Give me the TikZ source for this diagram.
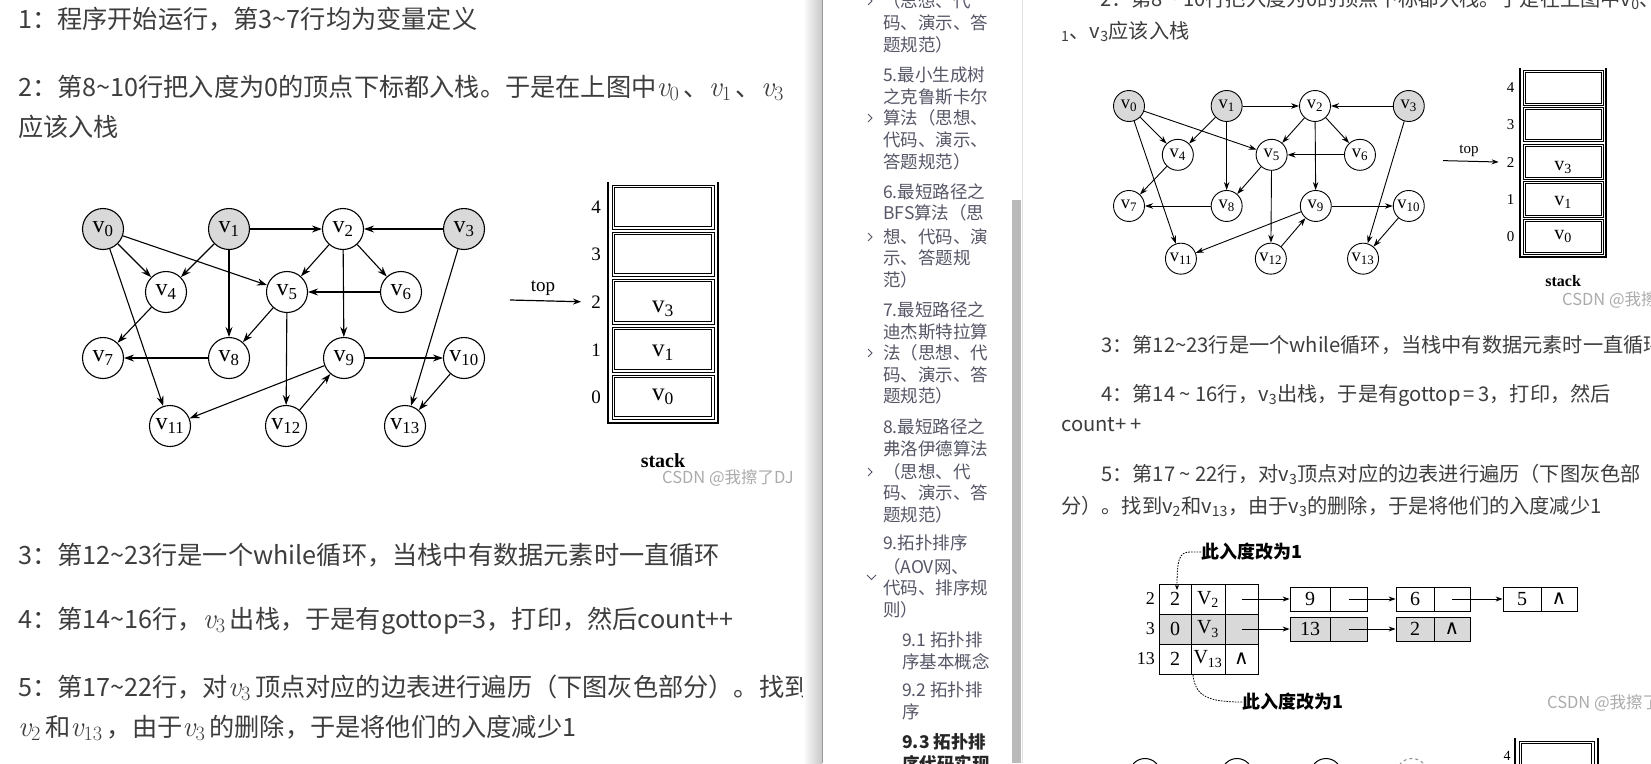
\documentclass[tikz,border=0pt]{standalone}
\usepackage{fontspec}
\usetikzlibrary{arrows.meta}
\newfontfamily\cjk{Noto Sans CJK SC}
\newfontfamily\tms{Liberation Serif}
\newfontfamily\dvs{DejaVu Sans}
\newcommand\kv[1]{{\rmfamily\itshape\fontsize{29}{29}\selectfont v\textsubscript{\upshape #1}}}
\newcommand\wdg{{\dvs ∧}}
\definecolor{txt}{HTML}{3D3D3D}
\definecolor{side}{HTML}{555666}
\definecolor{wm}{HTML}{ABABAB}
\tikzset{
 ltxt/.style={anchor=base west, inner sep=0pt, text=txt, font=\cjk\fontsize{25.2}{25.2}\selectfont},
 rtxt/.style={anchor=base west, inner sep=0pt, text=txt, font=\cjk\fontsize{20.2}{20.2}\selectfont},
 sbt/.style={anchor=base west, inner sep=0pt, text=side, font=\cjk\fontsize{17.5}{17.5}\selectfont},
 wmark/.style={anchor=west, inner sep=0pt, text=wm, font=\cjk\fontsize{16.5}{16.5}\selectfont},
 gA/.style={vtx/.style={circle, draw, line width=1.1pt, minimum size=41pt, inner sep=0pt, font=\tms\fontsize{24}{24}\selectfont},
            arr/.style={line width=1.1pt, -{Stealth[length=10pt,width=7pt]}}},
 gB/.style={vtx/.style={circle, draw, line width=0.9pt, minimum size=31pt, inner sep=0pt, font=\tms\fontsize{18.5}{18.5}\selectfont},
            arr/.style={line width=0.9pt, -{Stealth[length=8pt,width=5.5pt]}}},
 sA/.style={sidx/.style={inner sep=0pt, font=\tms\fontsize{19}{19}\selectfont},
            sval/.style={inner sep=0pt, font=\tms\fontsize{25}{25}\selectfont},
            stoplbl/.style={inner sep=0pt, font=\tms\fontsize{19}{19}\selectfont},
            sname/.style={inner sep=0pt, font=\tms\bfseries\fontsize{20}{20}\selectfont},
            toparr/.style={line width=1.2pt, -{Stealth[length=8pt,width=6pt]}, shorten >=10pt},
            souter/.style={line width=2.3pt},
            scell/.style={line width=0.8pt}},
 sB/.style={sidx/.style={inner sep=0pt, font=\tms\fontsize{15}{15}\selectfont},
            sval/.style={inner sep=0pt, font=\tms\fontsize{20}{20}\selectfont},
            stoplbl/.style={inner sep=0pt, font=\tms\fontsize{15}{15}\selectfont},
            sname/.style={inner sep=0pt, font=\tms\bfseries\fontsize{16}{16}\selectfont},
            toparr/.style={line width=1pt, -{Stealth[length=7pt,width=5pt]}, shorten >=8pt},
            souter/.style={line width=1.9pt},
            scell/.style={line width=0.7pt}},
 tc/.style={draw, line width=0.8pt, minimum height=30pt, inner sep=0pt, font=\tms\fontsize{20}{20}\selectfont},
 ln/.style={draw, line width=0.8pt, minimum height=24pt, inner sep=0pt, font=\tms\fontsize{20}{20}\selectfont},
 rl/.style={anchor=east, inner sep=0pt, font=\tms\fontsize{18}{18}\selectfont},
 larr/.style={line width=0.9pt, -{Stealth[length=7pt,width=5pt]}},
 dotln/.style={line width=0.8pt, dash pattern=on 1.6pt off 1.2pt},
 lbl/.style={anchor=west, inner sep=0pt, font=\cjk\bfseries\fontsize{18}{18}\selectfont},
 chev/.style={draw=side, line width=1pt},
}
\newcommand\TopoGraph[1]{%
 \foreach \n/\x/\y/\f in {0/0/0/black!15, 1/126/0/black!15, 2/240/0/white, 3/361/0/black!15,
   4/63/63/white, 5/184/63/white, 6/298/63/white,
   7/0/129/white, 8/126/129/white, 9/241/129/white, 10/361/129/white,
   11/67/197/white, 12/183/197/white, 13/302/197/white}
   {\node[vtx, fill=\f] (#1v\n) at (\x,\y) {v\textsubscript{\n}};}
 \foreach \a/\b in {0/4,0/5,0/11,1/2,1/4,1/8,2/5,2/6,2/9,3/2,3/13,4/7,5/8,5/12,6/5,8/7,9/10,9/11,10/13,12/9}
   {\draw[arr] (#1v\a) -- (#1v\b);}
}
\newcommand\StackFig[2]{%
 \draw[souter] (0,0) -- (0,241) -- (110,241) -- (110,0);
 \foreach \i/\ta/\tb/\m in {4/3/47/25, 3/50/94/72, 2/97/142/120, 1/145/190/168, 0/193/237/215}
   {\draw[scell] (4,\ta) rectangle (106,\tb);
    \draw[scell] (6.5,\ta+2.5) rectangle (103.5,\tb-2.5);
    \node[sidx] (#1i\i) at (-12,\m) {\i};}
 \node[sval] (#1s2) at (55,127) {v\textsubscript{3}};
 \node[sval] (#1s1) at (55,171) {v\textsubscript{1}};
 \node[sval] (#1s0) at (55,215) {v\textsubscript{0}};
 \coordinate (#1top) at (-98,118);
 \draw[toparr] (#1top) -- (#1i2.west);
 \node[stoplbl] (#1tl) at (-65,106) {top};
 \node[sname] (#1nm) at (55,#2) {stack};
}
\begin{document}
\begin{tikzpicture}[x=1pt, y=-1pt]
\path[use as bounding box] (0,0) rectangle (1651,763);
\clip (0,0) rectangle (1651,763);
\fill[white] (0,0) rectangle (1651,763);

% ---------- left pane ----------
\node[ltxt] (l1) at (18,28) {1：程序开始运行，第3\textasciitilde7行均为变量定义};
\node[ltxt] (l2) at (18,96) {2：第8\textasciitilde10行把入度为0的顶点下标都入栈。于是在上图中\kv{0}\,、\kv{1}\,、\kv{3}};
\node[ltxt] (l3) at (18,136) {应该入栈};
\node[ltxt] (l4) at (18,564) {3：第12\textasciitilde23行是一个while循环，当栈中有数据元素时一直循环};
\node[ltxt] (l5) at (18,628) {4：第14\textasciitilde16行，\kv{3}\,出栈，于是有gottop=3，打印，然后count++};
\node[ltxt] (l6) at (18,696) {5：第17\textasciitilde22行，对\kv{3}\,顶点对应的边表进行遍历（下图灰色部分）。找到};
\node[ltxt] (l7) at (18,736) {\kv{2}\,和\kv{13}\,，由于\kv{3}\,的删除，于是将他们的入度减少1};

\begin{scope}[shift={(103,229)}, gA] \TopoGraph{a} \end{scope}
\begin{scope}[shift={(608,182)}, sA] \StackFig{a}{279} \end{scope}
\node[wmark] (wm1) at (662,478) {CSDN @我擦了DJ};

% divider shadow
\shade[left color=white, right color=black!22] (803,0) rectangle (822,763);
\draw[black!40, line width=1pt] (822.5,0) -- (822.5,763);

% ---------- sidebar ----------
\foreach \y/\tx [count=\k] in {7/{（思想、代}, 29/{码、演示、答}, 51/{题规范）},
  81/{5.最小生成树}, 103/{之克鲁斯卡尔}, 124/{算法（思想、}, 146/{代码、演示、}, 168/{答题规范）},
  198/{6.最短路径之}, 219/{BFS算法（思}, 243/{想、代码、演}, 264/{示、答题规}, 286/{范）},
  316/{7.最短路径之}, 338/{迪杰斯特拉算}, 359/{法（思想、代}, 381/{码、演示、答}, 402/{题规范）},
  433/{8.最短路径之}, 455/{弗洛伊德算法}, 478/{（思想、代}, 499/{码、演示、答}, 521/{题规范）},
  549/{9.拓扑排序}, 573/{（AOV网、}, 594/{代码、排序规}, 616/{则）}}
  {\node[sbt] (sb\k) at (883,\y) {\tx};}
\foreach \y/\tx [count=\k] in {646/{9.1 拓扑排}, 668/{序基本概念}, 696/{9.2 拓扑排}, 718/{序}}
  {\node[sbt] (ss\k) at (902,\y) {\tx};}
\node[sbt, text=black!85, font=\cjk\bfseries\fontsize{17.5}{17.5}\selectfont] (sb31) at (902,748) {9.3 拓扑排};
\node[sbt, text=black!85, font=\cjk\bfseries\fontsize{17.5}{17.5}\selectfont] (sb32) at (902,770) {序代码实现};
\foreach \y in {1,118,237,353,472}
  {\draw[chev] (868,\y-4) -- (872,\y) -- (868,\y+4);}
\draw[chev] (867,575) -- (871.5,579.5) -- (876,575);
\fill[black!27] (1012,200) rectangle (1021,763);
\draw[black!12] (1022,0) -- (1022,763);

% ---------- right pane ----------
\node[rtxt] (r0) at (1100,6) {2：第8 \textasciitilde{} 10行把入度为0的顶点下标都入栈。于是在上图中v\textsubscript{0}、};
\node[rtxt] (r1) at (1061,38) {\textsubscript{1}、v\textsubscript{3}应该入栈};
\begin{scope}[shift={(1129,106)}, scale=0.775, gB] \TopoGraph{b} \end{scope}
\begin{scope}[shift={(1520,68)}, scale=0.785, sB] \StackFig{b}{271} \end{scope}
\node[wmark] (wm2) at (1562,300) {CSDN @我擦了DJ};

\node[rtxt] (r3) at (1101,352) {3：第12\textasciitilde23行是一个while循环，当栈中有数据元素时一直循环};
\node[rtxt] (r4) at (1101,401) {4：第14 \textasciitilde{} 16行，v\textsubscript{3}出栈，于是有gottop\,=\,3，打印，然后};
\node[rtxt] (r5) at (1061,431) {count+\,+};
\node[rtxt] (r6) at (1101,481) {5：第17 \textasciitilde{} 22行，对v\textsubscript{3}顶点对应的边表进行遍历（下图灰色部};
\node[rtxt] (r7) at (1061,513) {分）。找到v\textsubscript{2}和v\textsubscript{13}，由于v\textsubscript{3}的删除，于是将他们的入度减少1};

% adjacency table
\node[tc, minimum width=32pt] (t2a) at (1175,599) {2};
\node[tc, minimum width=34pt] (t2b) at (1208,599) {V\textsubscript{2}};
\node[tc, minimum width=33pt] (t2c) at (1241.5,599) {};
\node[tc, minimum width=32pt, fill=black!15] (t3a) at (1175,629) {0};
\node[tc, minimum width=34pt, fill=black!15] (t3b) at (1208,629) {V\textsubscript{3}};
\node[tc, minimum width=33pt, fill=black!15] (t3c) at (1241.5,629) {};
\node[tc, minimum width=32pt] (t13a) at (1175,659) {2};
\node[tc, minimum width=34pt] (t13b) at (1208,659) {V\textsubscript{13}};
\node[tc, minimum width=33pt] (t13c) at (1241.5,659) {\wdg};
\node[rl] (rw2) at (1155,599) {2};
\node[rl] (rw3) at (1155,629) {3};
\node[rl] (rw13) at (1155,659) {13};

\node[ln, minimum width=40pt] (n9d) at (1310,599) {9};
\node[ln, minimum width=37pt] (n9p) at (1348.5,599) {};
\node[ln, minimum width=38pt] (n6d) at (1415,599) {6};
\node[ln, minimum width=36pt] (n6p) at (1452,599) {};
\node[ln, minimum width=38pt] (n5d) at (1522,599) {5};
\node[ln, minimum width=36pt] (n5p) at (1559,599) {\wdg};
\node[ln, minimum width=40pt, fill=black!15] (m13d) at (1310,629) {13};
\node[ln, minimum width=37pt, fill=black!15] (m13p) at (1348.5,629) {};
\node[ln, minimum width=38pt, fill=black!15] (m2d) at (1415,629) {2};
\node[ln, minimum width=36pt, fill=black!15] (m2p) at (1452,629) {\wdg};
\draw[larr] (t2c.center) -- (n9d.west);
\draw[larr] (n9p.center) -- (n6d.west);
\draw[larr] (n6p.center) -- (n5d.west);
\draw[larr] (t3c.center) -- (m13d.west);
\draw[larr] (m13p.center) -- (m2d.west);

\node[lbl] (lbA) at (1201,552) {此入度改为1};
\node[lbl] (lbB) at (1242,702) {此入度改为1};
\coordinate (cA) at (1177,590);
\coordinate (cB) at (1193,675);
\draw[dotln, -{Stealth[length=5pt,width=4pt]}] (lbA.west) -- (1190,552) .. controls (1179,552) and (1177,560) .. (cA);
\draw[dotln] (cB) .. controls (1195,697) and (1210,702) .. (lbB.west);
\node[wmark] (wm3) at (1547,703) {CSDN @我擦了DJ};

% partially visible next figure
\node[circle, draw, line width=1pt, minimum size=31pt] (q0) at (1145,774) {};
\node[circle, draw, line width=1pt, minimum size=31pt] (q1) at (1237,774) {};
\node[circle, draw, line width=1pt, minimum size=31pt] (q2) at (1326,774) {};
\node[circle, draw=black!45, dashed, line width=1pt, minimum size=31pt] (q3) at (1412,774) {};
\draw[line width=1.9pt] (1515,738) -- (1515,775);
\draw[line width=1.9pt] (1598,738) -- (1598,775);
\draw[line width=0.7pt] (1519,741) rectangle (1594,790);
\draw[line width=0.7pt] (1521.5,743.5) rectangle (1591.5,790);
\node[inner sep=0pt, font=\tms\fontsize{14}{14}\selectfont] (q4) at (1507,756) {4};
\end{tikzpicture}
\end{document}
